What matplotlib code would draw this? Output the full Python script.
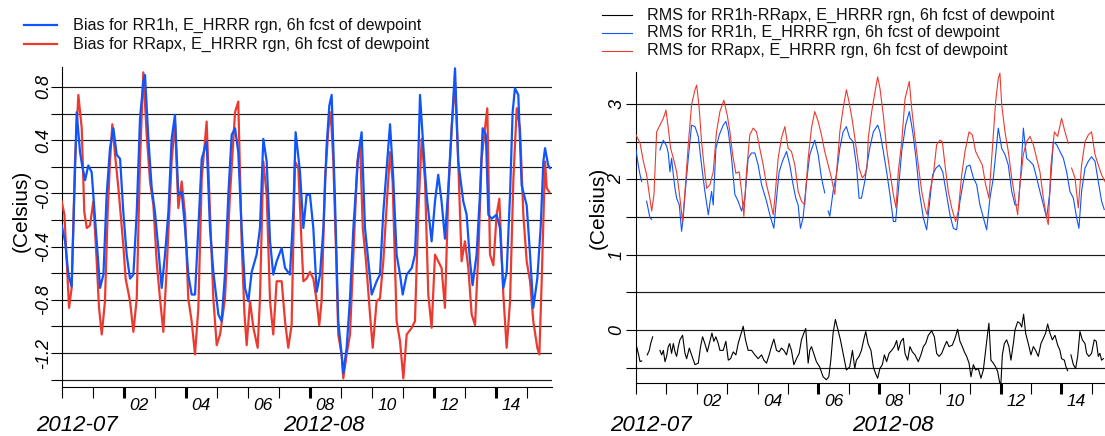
import numpy as np
import matplotlib
matplotlib.use('Agg')
import matplotlib.pyplot as plt
from matplotlib.lines import Line2D
from matplotlib import transforms

nan = np.nan
plt.rcParams['font.family'] = ['Liberation Sans', 'DejaVu Sans']

# ---------------- data (time in hours since 2012-07-31 00z approx) ----------------
bias_rr1h_t = [0, 2.6, 5.2, 7.7, 11.6, 14.2, 16, 18.1, 20.6, 23.2, 24.5, 27.1, 29.7, 32.3, 34.8,
               37.4, 40, 42.6, 45.2, 47.7, 50.3, 52.9, 55.5, 58.1, 60.6, 63.2, 64.5, 67.1, 69.7, 72.2,
               74.8, 77.4, 80, 82.6, 85.1, 87.7, 90.3, 92.9, 95.5, 98, 100.6, 103.2, 105.8, 108.4, 112.2,
               114.8, 117.4, 121.3, 123.8, 126.4, 129, 131.6, 134.2, 136.7, 139.3, 141.9, 144.5, 147.1,
               150.9, 153.5, 156.1, 158.7, 161.3, 163.8, 166.4, 170.3, 172.9, 176.7, 179.3, 181.1, 184.5,
               187.1, 189.6, 192.2, 194.8, 197.4, 200, 202.6, 205.1, 207.2, 209, 211.6, 214.1, 216.7, 218,
               220.6, 223.2, 225.8, 229.6, 232.2, 234.8, 237.4, 240, 243.8, 246.4, 249, 252.1, 254.2, 256.7,
               259.3, 261.9, 264, 267.1, 271, 273.5, 275.3, 277.4, 279.9, 282.5, 286.4, 289, 291.5, 294.1,
               296.7, 299.3, 301.9, 304.5, 307, 310.9, 313.5, 316.1, 318.1, 321.2, 323.8, 325.9, 328.4,
               330.3, 332.8, 336.7, 339.3, 341.9, 344.5, 347.1, 349.1, 350.9, 353.5, 356.1, 360, 362.6,
               365.1, 368.2, 370.8, 372.9, 374.2, 376.7, 378]
bias_rr1h_v = [-0.24, -0.36, -0.61, -0.70, 0.61, 0.31, 0.20, 0.10, 0.21, 0.16, -0.01, -0.36, -0.71, -0.61, -0.01,
               0.34, 0.49, 0.29, 0.26, -0.14, -0.46, -0.64, -0.61, -0.14, 0.56, 0.84, 0.89, 0.41, 0.04, -0.14,
               -0.41, -0.71, -0.46, -0.14, 0.41, 0.59, -0.01, 0.01, -0.26, -0.61, -0.76, -0.76, -0.26, 0.26, 0.39,
               -0.26, -0.59, -0.91, -0.96, -0.61, -0.01, 0.44, 0.49, 0.31, -0.26, -0.71, -0.81, -0.59,
               -0.46, -0.26, 0.41, 0.24, -0.36, -0.61, -0.51, -0.41, -0.56, -0.61, -0.14, 0.46, 0.16,
               -0.26, -0.01, -0.01, -0.26, -0.74, -0.61, -0.26, 0.36, 0.66, 0.74, -0.06, -0.96, -1.21, -1.35,
               -1.16, -0.79, -0.26, 0.29, 0.46, -0.26, -0.51, -0.76, -0.66, -0.61, -0.14, 0.26, 0.52, 0.11,
               -0.46, -0.61, -0.76, -0.61, -0.56, -0.46, -0.01, 0.74, 0.36, -0.01, -0.36, -0.06, 0.14, -0.06,
               -0.34, 0.04, 0.49, 0.94, 0.24, -0.06, -0.16, -0.51, -0.69, -0.46, -0.01, 0.49, 0.44,
               -0.16, -0.19, -0.16, -0.26, -0.71, -0.59, -0.01, 0.61, 0.79, 0.74, 0.06, -0.09, -0.46,
               -0.86, -0.64, -0.26, 0.24, 0.34, 0.21, 0.19]

bias_rrapx_t = [0, 2.1, 3.9, 5.7, 7.7, 10.3, 12.9, 15.5, 17.5, 19.4, 21.9, 24.5, 27.1, 28.9, 31,
                33.5, 35.6, 37.4, 39.2, 41.3, 43.9, 45.2, 47.7, 49.5, 52.9, 55.5, 58.1, 60.6, 63.2, 65.8,
                68.4, 71, 73.5, 76.1, 78.7, 81.3, 85.1, 87.7, 90.3, 92.9, 95.5, 98, 100.6, 103.2, 105.8,
                108.4, 112.2, 114.8, 117.4, 120, 122.6, 126.4, 130.3, 134.2, 136.7, 139.3, 141.4, 143.2,
                145.8, 148.4, 151.7, 153.5, 156.1, 158.7, 161.3, 163.8, 166.4, 170.3, 172.9, 175.4, 178,
                180.6, 183.2, 185.8,
                187.1, 189.6, 192.2, 194.8, 197.4, 199.4, 201.2, 203.9, 206.5, 208.3, 210.3, 212.4, 214.1,
                216.7, 218, 220.6, 223.2, 225.8, 228.9, 231, 233.1, 235.6, 238.7, 240.8, 243.8, 246.4, 249,
                252.1, 254.2, 256.2, 259.3, 261.9, 264.5, 267.1, 271, 273.5, 276.1, 278.7, 281.3, 283.8,
                286.4, 289, 291.5, 294.1, 296.7, 299.3, 301.9, 304.5, 307, 309.6, 312.2, 314.8, 317.4, 320,
                322.6, 325.1, 327.7, 329.5, 331.6, 334.2, 336.7, 338.8, 341.9, 344.5, 347.1, 349.7, 352.3,
                354.8, 357.4, 360, 362.6, 365.1, 368.2, 369.8, 371.6, 374.2, 375.5, 377.5]
bias_rrapx_v = [-0.06, -0.16, -0.51, -0.86, -0.71, 0.24, 0.74, 0.49, -0.14, -0.26, -0.24, -0.06, -0.51, -0.86, -1.06,
                -0.81, -0.14, 0.24, 0.52, 0.29, 0.04, -0.11, -0.39, -0.64, -0.81, -1.04, -0.79, 0.24, 0.91, 0.44,
                0.09, -0.09, -0.51, -0.79, -1.04, -0.56, 0.24, 0.54, -0.11, 0.09, -0.16, -0.79, -0.96, -1.21, -0.86,
                0.11, 0.54, -0.14, -0.79, -1.14, -1.06, -0.79, -0.01, 0.61, 0.69, -0.36, -0.89, -1.14,
                -0.81, -1.01, -1.16, -0.79, 0.24, -0.01, -0.81, -1.06, -0.66, -0.66, -0.96, -1.16, -0.99,
                0.24, 0.19, -0.40,
                -0.66, -0.64, -0.59, -0.64, -0.81, -0.99, -0.81, 0.11, 0.49, 0.61, 0.24, -0.44, -1.06,
                -1.21, -1.39, -1.21, -1.06, -0.46, 0.24, 0.36, -0.26, -0.51, -0.91, -1.16, -0.81, -0.79, -0.51,
                -0.01, 0.31, 0.09, -0.96, -1.11, -1.39, -1.06, -1.01, -0.96, -0.14, 0.41, 0.09, -0.76,
                -1.01, -0.46, -0.51, -0.56, -0.86, -0.01, 0.49, 0.84, 0.24, -0.51, -0.36, -0.56, -0.91, -0.99,
                -0.44, 0.26, 0.49, 0.64, -0.46, -0.54, -0.16, -0.04, -0.76, -1.16, -0.81, 0.11, 0.64,
                0.49, -0.16, -0.51, -0.66, -0.96, -1.16, -1.21, -0.66, 0.24, 0.04, 0.01]

rms_rr1h_t = [0, 1.8, 3.2, 4.5, 6, 8.4, 11, 12.4, 15, 18.9, 21.6, 24.2, 25.5, 26.8, 28.1, 29.5, 30.8, 32.1,
              34.2, 36, 37.3, 38.7, 41.3, 43.9, 46.6, 49.2, 51.8, 54.4, 57.1, 59.7, 61, 63.1, 65.8, 68.9,
              71, 72.9, 75.5, 78.1, 80.7, 83.4, 86, 88.6, 91.3, 93.9, 96.5, 99.2, 103.1, 105.7, 108.9, 111,
              113.1, 115.7, 118.9, 121.5, 124.1, 126.2, 128.1, 129.9, 132, 134.7, 137.3, 141.2, 143.9,
              146.5, 149.1, 150.5, 151.8, 153.1, 155.7, 158.3, 161, 163.6, 166.2, 168.8, 171.5, 174.1,
              176.2, 178.1, 180.7, 182.5, 184.6,
              187.5, 190.9, 192.7, 195.4, 198, 200.6, 203.3, 205.1, 207.2, 209.9, 213, 215.9, 218.6, 221.2,
              223.8, 227, 229.6, 231.7, 234.3, 237, 239.6, 242.3, 244.9, 248, 250.7, 253.3, 255.9, 258.6,
              261.2, 263.8, 266.5, 269.1, 271.7, 274.4, 277, 279.6, 282.3, 284.9, 286.2, 288.9, 291.5,
              294.1, 296.8, 299.4, 302, 304.1, 306, 308.6, 311.2, 313.9, 316.5, 319.1, 321.8, 324.4, 327,
              329.7, 332.3, 334.9, 337.6, 340.2, 342.8, 345.5, 348.1, 349.9, 352, 354.7, 357.3, 359.9,
              362.6, 365.2, 367.8, 369.9]
rms_rr1h_v = [2.39, 2.19, 2.06, 1.97, nan, 1.71, 1.49, 1.47, nan, 2.39, 2.52, 2.44, 2.35, 2.10, 2.28, 2.06, 1.88, 1.75,
              1.66, 1.31, 1.49, 1.80, 2.28, 2.72, 2.70, 2.57, 2.19, 1.84, 1.53, 1.84, 1.66, 2.41, 2.59, 2.72,
              2.77, 2.64, 2.28, 1.80, 1.71, 1.58, 1.75, 2.28, 2.35, 2.35, 2.19, 1.93, 1.71, 1.53, 1.35, 1.75,
              2.10, 2.24, 2.37, 2.19, 1.93, 1.75, 1.66, 1.35, 1.49, 1.97, 2.33, 2.52, 2.33,
              2.02, 1.82, nan, 1.58, 1.51, 1.84, 2.06, 2.41, 2.63, 2.70, 2.55, 2.50, 2.19,
              1.75, 1.75, 1.97, 2.19, 2.41,
              2.63, 2.72, 2.63, 2.37, 2.10, 1.80, 1.44, 1.44, 1.84, 2.37, 2.72, 2.90, 2.63, 2.28,
              1.84, 1.49, 1.33, 1.66, 2.06, 2.15, 2.19, 2.10, 1.84, 1.53, 1.35, 1.33, 1.71, 1.97,
              2.17, 2.19, 2.02, 1.93, 1.66, 1.49, 1.33, 1.75, 2.02, 2.46, 2.68, 2.41, 2.33,
              2.19, 1.84, 1.66, 1.66, 2.10, 2.68, 2.28, 2.24, 2.19, 2.02, 1.84, 1.66, 1.49, 1.84,
              2.50, 2.46, 2.37, 2.28, 2.10, 1.84, 1.75, 1.49, 1.35, 1.84, 2.15, 2.24, 2.30,
              2.24, 1.97, 1.71, 1.60]

rms_rrapx_t = [0, 3.2, 5.8, 8.4, 10.5, 12.4, 14.2, 16.3, 18.9, 21.6, 23.7, 25.5, 27.4, 29.5, 32.1, 34.7,
               36.8, 38.7, 41.3, 43.9, 46.6, 47.9, 49.7, 51.8, 53.7, 55.8, 58.4, 61, 63.6, 66.3, 69.4, 72.1,
               74.2, 76.3, 78.9, 81.5, 83.4, 85.2, 87.3, 89.9, 92.6, 95.2, 97.8, 100.5, 103.1, 105.7, 108.4,
               109.7, 112.3, 114.9, 117.6, 120.2, 122.8, 125.5, 128.1, 130.7, 133.3, 136, 138.6, 141.2,
               143.9, 146.5, 149.1, 151.8, 154.4, 157, 158.3, 161, 163.6, 166.2, 168.3, 171, 173.6, 176.2,
               178.8, 180.7, 182.5,
               183.5, 186.2, 188.8, 190.9, 192.7, 195.4, 198, 200.6, 203.3, 205.4, 207.2, 209.9, 212.5,
               215.9, 217.8, 220.4, 223, 225.7, 228.3, 230.1, 232.2, 234.9, 237.5, 240.1, 242, 244.1, 246.7,
               249.4, 252.5, 254.6, 257.3, 259.9, 263.1, 265.7, 268.3, 270.9, 273.6, 276.2, 278.8, 281.5,
               284.1, 286.2, 287.5, 288.9, 291.5, 294.1, 296.8, 299.4, 301.5, 303.3, 306, 308.6, 311.2,
               313.9, 316.5, 319.1, 321.8, 324.4, 325.7, 327.8, 330.5, 333.1, 336.2, 338.9, 341.5, 342.8,
               344.1, 346.8, 349.4, 352, 354.7, 357.3, 359.9, 362.6, 365.2, 367.8, 370.5]
rms_rrapx_v = [2.59, 2.48, 2.24, 2.06, 1.80, 1.58, 1.80, 2.63, 2.72, 2.81, 2.92, 2.68, 2.41, 2.28, 2.10, 1.75,
               1.44, 1.84, 2.46, 2.99, 3.19, 3.25, 2.99, 2.50, 2.19, 1.88, 1.93, 2.10, 2.63, 2.90, 3.05, 2.85,
               2.63, 2.33, 2.08, 2.10, 1.84, 1.51, 2.10, 2.59, 2.68, 2.63, 2.41, 2.19, 1.93, 1.75, 1.53,
               1.75, 2.28, 2.55, 2.70, 2.41, 2.37, 2.19, 1.84, 1.71, 1.66, 2.28, 2.68, 2.90,
               2.77, 2.59, 2.37, 2.19, 2.02, 1.80, 2.06, 2.63, 2.94, 3.19, 3.03, 2.77, 2.46, 2.15,
               2.02, 2.06, 2.15,
               2.55, 2.90, 3.16, 3.36, 3.21, 2.85, 2.41, 2.10, 1.80, 1.62, 2.10, 2.50, 3.07,
               3.30, 2.94, 2.55, 2.19, 1.84, 1.62, 1.53, 1.84, 2.06, 2.46, 2.52, 2.50, 2.19, 1.84,
               1.62, 1.44, 1.58, 2.06, 2.37, 2.63, 2.59, 2.37, 2.28, 2.19, 1.93, 1.75, 2.41,
               3.03, 3.34, 3.41, 2.99, 2.63, 2.37, 2.02, 1.75, 1.53, 1.93, 2.33, 2.50, 2.57,
               2.46, 2.28, 2.10, 1.75, 1.49, 1.40, 2.19, 2.63, 2.57, 2.81, 2.63, 2.48, nan,
               2.15, 2.02, 1.62, 2.19, 2.50, 2.59, 2.63, 2.33, 2.19, 2.06, 1.97]

rms_diff_t = [0.5, 1.8, 3.2, 4.5, 6.5, 8.9, 10.5, 11.6, 13.2, 16, 18.9, 20.3, 21.6, 22.9, 24.2, 25.5, 26.8,
              28.1, 29.5, 30.8, 32.1, 33.4, 34.7, 36.8, 38.7, 40, 42.1, 43.9, 46.6, 49.2, 51, 52.6, 54.4,
              56.3, 57.9, 60, 61.5, 63.1, 65, 66.3, 68.9, 71, 72.9, 74.7, 76.8, 78.9, 80.7, 82.6, 84.7,
              86.5, 88.6, 91.3, 93.9, 96.5, 99.2, 101, 103.1, 105.2, 107, 108.9, 111, 113.1, 114.9, 116.8,
              118.9, 121, 122.8, 124.7, 126.8, 128.9, 130.7, 132.6, 134.1, 136, 137.3, 138.6, 140.4, 142.5,
              145.1, 147.8, 150.4, 152.3, 153.9, 155.7, 157.5, 159.6, 161.5, 163.6, 166.2, 168.8, 171,
              172.8, 174.1, 176.2, 178.1, 179.9, 181.5, 183.3,
              185.6, 187.5, 189.3, 190.9, 192.7, 194.6, 196.2, 198, 199.9, 202, 204.1, 205.9, 207.2, 209.3,
              211.2, 212.5, 214.6, 216.4, 218.3, 220.4, 223, 225.1, 227, 228.8, 230.9, 233.6, 235.7, 237.5,
              239.4, 241.5, 243.6, 245.4, 247.3, 249.9, 252, 254.1, 255.9, 257.8, 259.4, 261.2, 263.1,
              264.6, 266.5, 268.3, 270.4, 272.5, 274.4, 276.2, 277.8, 278.8, 280.4, 282.3, 284.1, 285.7,
              287.3, 288.3, 289.4, 291, 292.8, 294.6, 296.2, 298.1, 299.4, 301.5, 303.3, 304.7, 306.2,
              307.8, 309.9, 312, 313.9, 315.7, 317.8, 319.9, 321.8, 323.6, 325.2, 327, 328.9, 331, 333.1,
              334.9, 336.2, 338.4, 339.7, 341, 342.3, 343.6, 345.5, 347.3, 348.9, 350.7, 352.6, 354.7, 356,
              357.8, 359.9, 362, 363.6, 365.2, 366.5, 367.8, 369.2]
rms_diff_v = [-0.22, -0.31, -0.42, -0.41, nan, -0.33, -0.27, -0.18, -0.09, nan, -0.27, -0.33, -0.27, -0.42, -0.35, -0.22, -0.18,
              -0.31, -0.18, -0.29, -0.35, -0.22, -0.13, -0.07, -0.31, -0.38, -0.24, -0.33, -0.46, -0.44, -0.22, -0.09, -0.18,
              -0.29, -0.18, -0.04, -0.15, -0.09, -0.18, -0.27, -0.27, -0.15, -0.40, -0.38, -0.29, -0.33, -0.18, -0.07, 0.05,
              -0.13, -0.27, -0.27, -0.33, -0.38, -0.33, -0.40, -0.44, -0.33, -0.22, -0.12, -0.27, -0.29, -0.24, -0.27,
              -0.33, -0.18, -0.27, -0.46, -0.38, -0.31, -0.13, -0.04, 0.02, -0.44, -0.27, -0.22, -0.31, -0.42,
              -0.49, -0.62, -0.66, -0.62, -0.40, -0.04, 0.14, 0.00, -0.13, -0.31, -0.53, -0.49, -0.27,
              -0.51, -0.40, -0.35, -0.27, -0.13, -0.02, -0.18,
              -0.27, -0.49, -0.58, -0.64, -0.51, -0.46, -0.33, -0.42, -0.31, -0.27, -0.22, -0.14, -0.27, -0.15,
              -0.11, -0.31, -0.40, -0.22, -0.29, -0.33, -0.42, -0.33, -0.22, -0.18, -0.07, -0.01, -0.09, -0.31,
              -0.35, -0.31, -0.22, -0.15, -0.22, -0.20, -0.11, 0.01, -0.15, -0.22, -0.29, -0.35, -0.44,
              -0.62, -0.46, -0.53, -0.51, -0.64, -0.53, -0.27, -0.04, 0.09, -0.40, -0.44, -0.49, -0.55,
              -0.70, -0.70, -0.33, -0.18, -0.13, -0.22, -0.40, -0.18, 0.00, 0.11, 0.09, 0.04, 0.21,
              -0.04, -0.18, -0.33, -0.22, -0.27, -0.35, -0.18, -0.11, -0.04, 0.08, -0.04, -0.13, -0.07, -0.20,
              -0.27, -0.38, -0.40, -0.49, -0.54, nan, -0.33, -0.46, -0.51, -0.35, -0.02, -0.13, -0.18, -0.31,
              -0.35, -0.31, -0.13, -0.15, -0.35, -0.31, -0.40, -0.38]

day_ticks = list(range(16))
day_label_pos = [2.5, 4.5, 6.5, 8.5, 10.5, 12.5, 14.5]
day_labels = ['02', '04', '06', '08', '10', '12', '14']
month_label_pos = [0.5, 8.47]
month_labels = ['2012-07', '2012-08']

left_yticks = [-1.4, -1.2, -1.0, -0.8, -0.6, -0.4, -0.2, 0.0, 0.2, 0.4, 0.6, 0.8]
left_ylabels = ['', '-1.2', '', '-0.8', '', '-0.4', '', '-0.0', '', '0.4', '', '0.8']
right_yticks = [-0.5, 0, 0.5, 1, 1.5, 2, 2.5, 3]
right_ylabels = ['', '0', '', '1', '', '2', '', '3']

left_legend = ['Bias for RR1h, E_HRRR rgn, 6h fcst of dewpoint',
               'Bias for RRapx, E_HRRR rgn, 6h fcst of dewpoint']
right_legend = ['RMS for RR1h-RRapx, E_HRRR rgn, 6h fcst of dewpoint',
                'RMS for RR1h, E_HRRR rgn, 6h fcst of dewpoint',
                'RMS for RRapx, E_HRRR rgn, 6h fcst of dewpoint']

BLUE = '#0f55fa'
RED = '#eb3b30'
BLACK = '#000000'

# ---------------- figure ----------------
W, H = 1105, 436
fig = plt.figure(figsize=(W / 100, H / 100), dpi=100)


def px_axes(x0, x1, ytop, ybot):
    return fig.add_axes([x0 / W, 1 - ybot / H, (x1 - x0) / W, (ybot - ytop) / H])


def style(ax, xmax, ylim, yticks, ylabels, ytick_len, thick_days, ypad):
    ax.set_xlim(0, xmax)
    ax.set_ylim(*ylim)
    for s in ['top', 'right']:
        ax.spines[s].set_visible(False)
    for s in ['left', 'bottom']:
        ax.spines[s].set_linewidth(0.8)
    for g in yticks:
        ax.axhline(g, color='#1a1a1a', lw=0.85, zorder=1)
    ax.set_yticks(yticks)
    ax.set_yticklabels(ylabels, rotation=90, va='center', style='italic')
    ax.tick_params(axis='y', direction='out', length=ytick_len, width=0.8, labelsize=13, pad=ypad)
    ax.set_xticks([d * 24 for d in day_ticks])
    ax.set_xticklabels([])
    ax.set_xticks([d * 24 for d in day_label_pos], minor=True)
    ax.set_xticklabels(day_labels, minor=True, style='italic')
    ax.tick_params(axis='x', which='major', direction='out', length=8, width=0.8)
    ax.tick_params(axis='x', which='minor', length=0, labelsize=12.5, pad=8.5)
    for d, tk in zip(day_ticks, ax.xaxis.get_major_ticks()):
        if d in thick_days:
            tk.tick1line.set_markeredgewidth(2.2)
    tr = transforms.blended_transform_factory(ax.transData, fig.transFigure)
    for p, lab in zip(month_label_pos, month_labels):
        ax.text(p * 24, 1 - 431 / H, lab, transform=tr, ha='center', va='baseline',
                fontsize=16, style='italic', clip_on=False)


# left panel: bias
axL = px_axes(61.7, 551.5, 67, 386.5)
style(axL, 379.2, (-1.451, 0.950), left_yticks, left_ylabels, 8, [2, 4, 8, 12, 14], -1)
axL.plot(bias_rrapx_t, bias_rrapx_v, color=RED, lw=1.6, zorder=3)
axL.plot(bias_rr1h_t, bias_rr1h_v, color=BLUE, lw=1.6, zorder=4)

# right panel: rms
axR = px_axes(636, 1105, 71.7, 382.6)
style(axR, 370.5, (-0.698, 3.429), right_yticks, right_ylabels, 7.5, [6, 8, 12, 14], 0)
axR.plot(rms_diff_t, rms_diff_v, color=BLACK, lw=0.8, zorder=3)
axR.plot(rms_rr1h_t, rms_rr1h_v, color=BLUE, lw=0.8, zorder=4)
axR.plot(rms_rrapx_t, rms_rrapx_v, color=RED, lw=0.8, zorder=5)

# y axis titles
fig.text(21.5 / W, 1 - 211 / H, '(Celsius)', rotation=90, ha='center', va='center', fontsize=15)
fig.text(598 / W, 1 - 208 / H, '(Celsius)', rotation=90, ha='center', va='center', fontsize=15)

# legends
for i, (txt, col) in enumerate(zip(left_legend, [BLUE, RED])):
    y = 1 - (25 + 19.5 * i) / H
    fig.add_artist(Line2D([24 / W, 57 / W], [y, y], color=col, lw=1.6, transform=fig.transFigure))
    fig.text(73 / W, y, txt, ha='left', va='center', fontsize=11.6, color='#111111')
for i, (txt, col) in enumerate(zip(right_legend, [BLACK, BLUE, RED])):
    y = 1 - (15 + 17.8 * i) / H
    fig.add_artist(Line2D([601.7 / W, 631.7 / W], [y, y], color=col, lw=0.8, transform=fig.transFigure))
    fig.text(646.7 / W, y, txt, ha='left', va='center', fontsize=11.6, color='#111111')

fig.savefig('out.png', dpi=100)
